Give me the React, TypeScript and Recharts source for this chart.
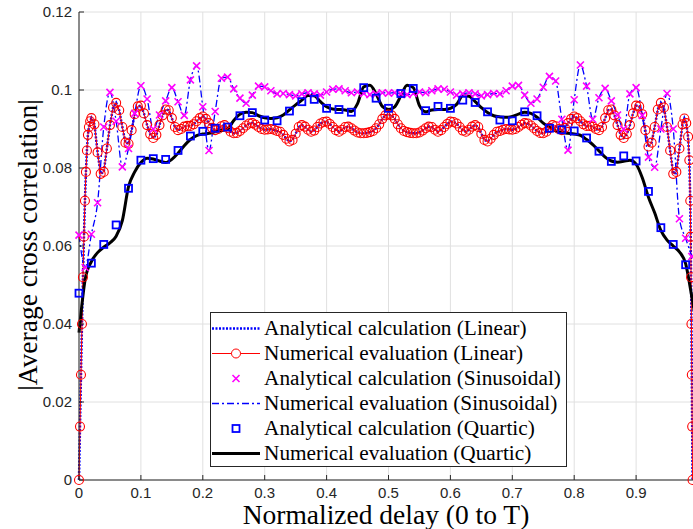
import { LineChart, Line, XAxis, YAxis, CartesianGrid, Legend, Label } from "recharts";

// delay grid shared by the sinusoidal markers and the quartic numerical curve
const grid01 = [
  0, 0.01, 0.02, 0.03, 0.04, 0.05, 0.06, 0.07, 0.08, 0.09,
  0.1, 0.11, 0.12, 0.13, 0.14, 0.15, 0.16, 0.17, 0.18, 0.19,
  0.2, 0.21, 0.22, 0.23, 0.24, 0.25, 0.26, 0.27, 0.28, 0.29,
  0.3, 0.31, 0.32, 0.33, 0.34, 0.35, 0.36, 0.37, 0.38, 0.39,
  0.4, 0.41, 0.42, 0.43, 0.44, 0.45, 0.46, 0.47, 0.48, 0.49,
  0.5, 0.51, 0.52, 0.53, 0.54, 0.55, 0.56, 0.57, 0.58, 0.59,
  0.6, 0.61, 0.62, 0.63, 0.64, 0.65, 0.66, 0.67, 0.68, 0.69,
  0.7, 0.71, 0.72, 0.73, 0.74, 0.75, 0.76, 0.77, 0.78, 0.79,
  0.8, 0.81, 0.82, 0.83, 0.84, 0.85, 0.86, 0.87, 0.88, 0.89,
  0.9, 0.91, 0.92, 0.93, 0.94, 0.95, 0.96, 0.97, 0.98, 0.99,
  1,
];

// linear profile (analytical and numerical agree)
const linX = [
  0, 0.0016, 0.0032, 0.0048, 0.0064, 0.008, 0.0096, 0.0112, 0.0128, 0.0144, 0.016, 0.018, 0.02,
  0.025, 0.03, 0.035, 0.04, 0.045, 0.05, 0.055, 0.06, 0.065, 0.07,
  0.075, 0.08, 0.085, 0.09, 0.095, 0.1, 0.105, 0.11, 0.115, 0.12,
  0.125, 0.13, 0.135, 0.14, 0.145, 0.15, 0.155, 0.16, 0.165, 0.17,
  0.175, 0.18, 0.185, 0.19, 0.195, 0.2, 0.205, 0.21, 0.215, 0.22,
  0.225, 0.23, 0.235, 0.24, 0.245, 0.25, 0.255, 0.26, 0.265, 0.27,
  0.275, 0.28, 0.285, 0.29, 0.295, 0.3, 0.305, 0.31, 0.315, 0.32,
  0.325, 0.33, 0.335, 0.34, 0.345, 0.35, 0.355, 0.36, 0.365, 0.37,
  0.375, 0.38, 0.385, 0.39, 0.395, 0.4, 0.405, 0.41, 0.415, 0.42,
  0.425, 0.43, 0.435, 0.44, 0.445, 0.45, 0.455, 0.46, 0.465, 0.47,
  0.475, 0.48, 0.485, 0.49, 0.495, 0.5, 0.505, 0.51, 0.515, 0.52,
  0.525, 0.53, 0.535, 0.54, 0.545, 0.55, 0.555, 0.56, 0.565, 0.57,
  0.575, 0.58, 0.585, 0.59, 0.595, 0.6, 0.605, 0.61, 0.615, 0.62,
  0.625, 0.63, 0.635, 0.64, 0.645, 0.65, 0.655, 0.66, 0.665, 0.67,
  0.675, 0.68, 0.685, 0.69, 0.695, 0.7, 0.705, 0.71, 0.715, 0.72,
  0.725, 0.73, 0.735, 0.74, 0.745, 0.75, 0.755, 0.76, 0.765, 0.77,
  0.775, 0.78, 0.785, 0.79, 0.795, 0.8, 0.805, 0.81, 0.815, 0.82,
  0.825, 0.83, 0.835, 0.84, 0.845, 0.85, 0.855, 0.86, 0.865, 0.87,
  0.875, 0.88, 0.885, 0.89, 0.895, 0.9, 0.905, 0.91, 0.915, 0.92,
  0.925, 0.93, 0.935, 0.94, 0.945, 0.95, 0.955, 0.96, 0.965, 0.97,
  0.975, 0.978, 0.981, 0.984, 0.986, 0.9875, 0.9882, 0.9888, 0.9894, 0.99, 0.9906, 0.9912,
];
const linY = [
  0, 0.0137, 0.027, 0.04, 0.052, 0.0624, 0.0716, 0.079, 0.0845, 0.0885, 0.0905, 0.092, 0.0928,
  0.0912, 0.084, 0.0785, 0.079, 0.085, 0.091, 0.0955, 0.0967, 0.0948, 0.0905,
  0.0865, 0.0862, 0.0897, 0.0938, 0.0958, 0.096, 0.094, 0.091, 0.0887, 0.0877,
  0.0885, 0.091, 0.0935, 0.095, 0.0948, 0.0928, 0.0905, 0.0897, 0.09, 0.0906,
  0.0908, 0.0908, 0.0912, 0.092, 0.0928, 0.0932, 0.0926, 0.0915, 0.0903, 0.0897,
  0.09, 0.0907, 0.091, 0.0903, 0.0893, 0.0889, 0.089, 0.0895, 0.0902, 0.0909,
  0.0914, 0.0915, 0.0911, 0.0905, 0.09, 0.0898, 0.0899, 0.09, 0.0898, 0.0895,
  0.0893, 0.0885, 0.0875, 0.0868, 0.0872, 0.0888, 0.0905, 0.091, 0.0906, 0.0898,
  0.0893, 0.0896, 0.0905, 0.0914, 0.0918, 0.0919, 0.0913, 0.0905, 0.0897, 0.0893,
  0.0898, 0.0905, 0.0906, 0.0902, 0.0896, 0.0891, 0.0889, 0.0889, 0.089, 0.0892,
  0.0895, 0.0902, 0.0912, 0.0926, 0.0935, 0.0937, 0.0935, 0.0926, 0.0912, 0.0902,
  0.0895, 0.0892, 0.089, 0.0889, 0.0889, 0.0891, 0.0896, 0.0902, 0.0906, 0.0905,
  0.0898, 0.0893, 0.0897, 0.0905, 0.0913, 0.0919, 0.0918, 0.0914, 0.0905, 0.0896,
  0.0893, 0.0898, 0.0906, 0.091, 0.0905, 0.0888, 0.0872, 0.0868, 0.0875, 0.0885,
  0.0893, 0.0895, 0.0898, 0.09, 0.0899, 0.0898, 0.09, 0.0905, 0.0911, 0.0915,
  0.0914, 0.0909, 0.0902, 0.0895, 0.089, 0.0889, 0.0893, 0.0903, 0.091, 0.0907,
  0.09, 0.0897, 0.0903, 0.0915, 0.0926, 0.0932, 0.0928, 0.092, 0.0912, 0.0908,
  0.0908, 0.0906, 0.09, 0.0897, 0.0905, 0.0928, 0.0948, 0.095, 0.0935, 0.091,
  0.0885, 0.0877, 0.0887, 0.091, 0.094, 0.096, 0.0958, 0.0938, 0.0897, 0.0855,
  0.0865, 0.0905, 0.095, 0.0967, 0.0955, 0.0905, 0.0845, 0.0785, 0.079, 0.085,
  0.0912, 0.0927, 0.0915, 0.088, 0.082, 0.0716, 0.0624, 0.052, 0.04, 0.027, 0.0137, 0,
];

// sinusoidal profile, one marker per 0.01 of delay (0 .. 0.99)
const sinY = [
  0.0628, 0.0545, 0.063, 0.0711, 0.0905, 0.0994, 0.092, 0.0803, 0.085, 0.094,
  0.1011, 0.0977, 0.09, 0.0936, 0.0972, 0.1006, 0.097, 0.0935, 0.1026, 0.1062,
  0.0957, 0.0845, 0.0945, 0.103, 0.1033, 0.1003, 0.0979, 0.0966, 0.0987, 0.101,
  0.1008, 0.0998, 0.099, 0.0991, 0.0988, 0.0985, 0.099, 0.0993, 0.099, 0.0987,
  0.0995, 0.1002, 0.1003, 0.0998, 0.0993, 0.0995, 0.0991, 0.0988, 0.099, 0.0993,
  0.0992, 0.0993, 0.099, 0.0988, 0.0991, 0.0995, 0.0993, 0.0998, 0.1003, 0.1002,
  0.0995, 0.0987, 0.099, 0.0993, 0.099, 0.0985, 0.0988, 0.0991, 0.099, 0.0998,
  0.101, 0.1012, 0.0987, 0.0966, 0.0977, 0.1007, 0.1035, 0.1023, 0.0925, 0.0846,
  0.0975, 0.1064, 0.101, 0.0925, 0.098, 0.1004, 0.0972, 0.0936, 0.09, 0.099,
  0.1006, 0.0935, 0.0828, 0.0802, 0.09, 0.0991, 0.09, 0.067, 0.062, 0.0573,
];

// quartic profile: analytical markers every 0.02, numerical curve every 0.01
const quaX = [
  0, 0.02, 0.04, 0.06, 0.08, 0.1, 0.12, 0.14, 0.16, 0.18,
  0.2, 0.22, 0.24, 0.26, 0.28, 0.3, 0.32, 0.34, 0.36, 0.38,
  0.4, 0.42, 0.44, 0.46, 0.48, 0.5, 0.52, 0.54, 0.56, 0.58,
  0.6, 0.62, 0.64, 0.66, 0.68, 0.7, 0.72, 0.74, 0.76, 0.78,
  0.8, 0.82, 0.84, 0.86, 0.88, 0.9, 0.92, 0.94, 0.96, 0.98,
];
const quaY = [
  0.0479, 0.0556, 0.0604, 0.0654, 0.0748, 0.082, 0.0824, 0.0822, 0.0845, 0.0882,
  0.0894, 0.0902, 0.0905, 0.0934, 0.0942, 0.0923, 0.0921, 0.0946, 0.097, 0.0976,
  0.0953, 0.095, 0.0943, 0.1006, 0.0979, 0.0953, 0.0991, 0.1004, 0.0947, 0.0958,
  0.0953, 0.0974, 0.0968, 0.0944, 0.0923, 0.0921, 0.0944, 0.0934, 0.0902, 0.0898,
  0.0895, 0.0877, 0.0843, 0.0817, 0.0831, 0.0818, 0.074, 0.0647, 0.0604, 0.0552,
];
const quaNumY = [
  0.0378, 0.0515, 0.056, 0.0583, 0.0597, 0.0608, 0.0625, 0.0665, 0.0752, 0.079,
  0.0814, 0.0825, 0.0823, 0.0818, 0.0814, 0.0822, 0.0838, 0.0857, 0.0873, 0.0883,
  0.0887, 0.0889, 0.0893, 0.0896, 0.09, 0.0922, 0.0938, 0.0943, 0.0942, 0.0934,
  0.0929, 0.0927, 0.0929, 0.0936, 0.0949, 0.0962, 0.0974, 0.0986, 0.0985, 0.097,
  0.0957, 0.0951, 0.095, 0.0949, 0.0945, 0.0965, 0.1008, 0.1012, 0.099, 0.0958,
  0.095, 0.0957, 0.0985, 0.1012, 0.1006, 0.096, 0.0944, 0.0949, 0.095, 0.095,
  0.0953, 0.0963, 0.0985, 0.0984, 0.097, 0.0955, 0.0942, 0.0934, 0.0931, 0.093,
  0.0932, 0.0938, 0.0943, 0.094, 0.093, 0.0915, 0.0905, 0.0895, 0.0891, 0.0889,
  0.0887, 0.0884, 0.0873, 0.086, 0.0844, 0.0828, 0.0818, 0.0815, 0.0817, 0.082,
  0.081, 0.0775, 0.0725, 0.0685, 0.064, 0.0615, 0.06, 0.0585, 0.0555, 0.047,
  0.0378,
];

// the x = 1 tick lies beyond the right edge of the figure
const xTicks = [0, 0.1, 0.2, 0.3, 0.4, 0.5, 0.6, 0.7, 0.8, 0.9];
const yTicks = [0, 0.02, 0.04, 0.06, 0.08, 0.1, 0.12];

const legendLabels = [
  "Analytical calculation (Linear)",
  "Numerical evaluation (Linear)",
  "Analytical calculation (Sinusoidal)",
  "Numerical evaluation (Sinusoidal)",
  "Analytical calculation (Quartic)",
  "Numerical evaluation (Quartic)",
];

const linData = linX.map((x, i) => ({ x, y: linY[i] }));
const sinData = sinY.map((y, i) => ({ x: grid01[i], y }));
const quaData = quaX.map((x, i) => ({ x, y: quaY[i] }));
const quaNumData = quaNumY.map((y, i) => ({ x: grid01[i], y }));

const BLUE = "#0000ff";
const RED = "#ff0000";
const MAGENTA = "#ff00ff";
const AXIS = "#262626";
const tickFont = { fontFamily: "Liberation Sans, Arial, sans-serif", fontSize: 15, fill: AXIS };
const serif = "Liberation Serif, 'Times New Roman', serif";

const RedCircle = (p: any) =>
  p.cx == null ? null : (
    <circle key={p.index} cx={p.cx} cy={p.cy} r={4.5} fill="none" stroke={RED} strokeWidth={1.1} />
  );

const Cross = (p: any) =>
  p.cx == null ? null : (
    <path
      key={p.index}
      d={`M${p.cx - 3.5},${p.cy - 3.5}L${p.cx + 3.5},${p.cy + 3.5}M${p.cx - 3.5},${p.cy + 3.5}L${p.cx + 3.5},${p.cy - 3.5}`}
      stroke={MAGENTA}
      strokeWidth={1.6}
      fill="none"
    />
  );

const Square = (p: any) =>
  p.cx == null ? null : (
    <rect key={p.index} x={p.cx - 3.5} y={p.cy - 3.5} width={7} height={7} fill="none" stroke={BLUE} strokeWidth={1.8} />
  );

function sample(i: number) {
  switch (i) {
    case 0:
      return <line x1={1} x2={49} y1={12.5} y2={12.5} stroke={BLUE} strokeWidth={2.5} strokeDasharray="2 1.5" />;
    case 1:
      return (
        <g>
          <line x1={1} x2={49} y1={12.5} y2={12.5} stroke={RED} strokeWidth={1} />
          <circle cx={25} cy={12.5} r={4.5} fill="#fff" stroke={RED} strokeWidth={1} />
        </g>
      );
    case 2:
      return <path d="M21.5,9L28.5,16M21.5,16L28.5,9" stroke={MAGENTA} strokeWidth={1.6} />;
    case 3:
      return <line x1={1} x2={49} y1={12.5} y2={12.5} stroke={BLUE} strokeWidth={1.3} strokeDasharray="7 3 2 3" />;
    case 4:
      return <rect x={21.5} y={9} width={7} height={7} fill="none" stroke={BLUE} strokeWidth={1.8} />;
    default:
      return <line x1={1} x2={49} y1={12.5} y2={12.5} stroke="#000" strokeWidth={3} />;
  }
}

function LegendBox() {
  return (
    <div
      style={{
        width: 357,
        height: 155,
        boxSizing: "border-box",
        border: `1px solid ${AXIS}`,
        background: "#fff",
        paddingTop: 3,
      }}
    >
      {legendLabels.map((label, i) => (
        <div key={label} style={{ display: "flex", alignItems: "center", height: 25 }}>
          <svg width={52} height={25} style={{ flex: "none" }}>
            {sample(i)}
          </svg>
          <span style={{ fontFamily: serif, fontSize: 21.3, color: "#000", marginLeft: 1, whiteSpace: "nowrap", lineHeight: "25px" }}>
            {label}
          </span>
        </div>
      ))}
    </div>
  );
}

const fmtX = (v: number) => (v === 0 ? "0" : String(+v.toFixed(1)));
const fmtY = (v: number) => (v === 0 ? "0" : String(+v.toFixed(2)));

export default function App() {
  return (
    <div style={{ position: "absolute", left: 0, top: 0, width: 693, height: 529, overflow: "hidden", background: "#fff" }}>
      <LineChart width={720} height={529} margin={{ top: 12, right: 22, bottom: 0, left: 0 }}>
        <CartesianGrid stroke="#e0e0e0" />
        <XAxis
          type="number"
          dataKey="x"
          domain={[0, 1]}
          ticks={xTicks}
          tickFormatter={fmtX}
          height={49}
          tickSize={-5}
          tickMargin={12}
          tick={tickFont}
          stroke={AXIS}
        >
          <Label
            content={() => (
              <text x={386} y={524} textAnchor="middle" fontFamily={serif} fontSize={27.5} fill="#000">
                Normalized delay (0 to T)
              </text>
            )}
          />
        </XAxis>
        <XAxis
          xAxisId="top"
          orientation="top"
          type="number"
          domain={[0, 1]}
          ticks={xTicks}
          height={0}
          tick={false}
          tickSize={-5}
          stroke={AXIS}
        />
        <YAxis
          type="number"
          domain={[0, 0.12]}
          ticks={yTicks}
          tickFormatter={fmtY}
          width={79}
          tickSize={-5}
          tickMargin={12}
          tick={tickFont}
          stroke={AXIS}
        >
          <Label
            content={() => (
              <text
                x={37}
                y={245}
                transform="rotate(-90 37 245)"
                textAnchor="middle"
                fontFamily={serif}
                fontSize={27.5}
                fill="#000"
              >
                |Average cross correlation|
              </text>
            )}
          />
        </YAxis>
        <Legend
          layout="horizontal"
          verticalAlign="middle"
          content={() => <LegendBox />}
          wrapperStyle={{ left: 210, top: 312, width: 357, height: 155 }}
        />
        <Line
          data={linData}
          dataKey="y"
          type="linear"
          stroke={BLUE}
          strokeWidth={2.5}
          strokeDasharray="2 1.5"
          dot={false}
          isAnimationActive={false}
        />
        <Line
          data={linData}
          dataKey="y"
          type="linear"
          stroke={RED}
          strokeWidth={1}
          dot={RedCircle}
          isAnimationActive={false}
        />
        <Line data={sinData} dataKey="y" stroke="none" dot={Cross} isAnimationActive={false} />
        <Line
          data={sinData}
          dataKey="y"
          type="monotone"
          stroke={BLUE}
          strokeWidth={1.3}
          strokeDasharray="7 3 2 3"
          dot={false}
          isAnimationActive={false}
        />
        <Line data={quaData} dataKey="y" stroke="none" dot={Square} isAnimationActive={false} />
        <Line
          data={quaNumData}
          dataKey="y"
          type="monotone"
          stroke="#000"
          strokeWidth={3}
          dot={false}
          isAnimationActive={false}
        />
      </LineChart>
    </div>
  );
}
